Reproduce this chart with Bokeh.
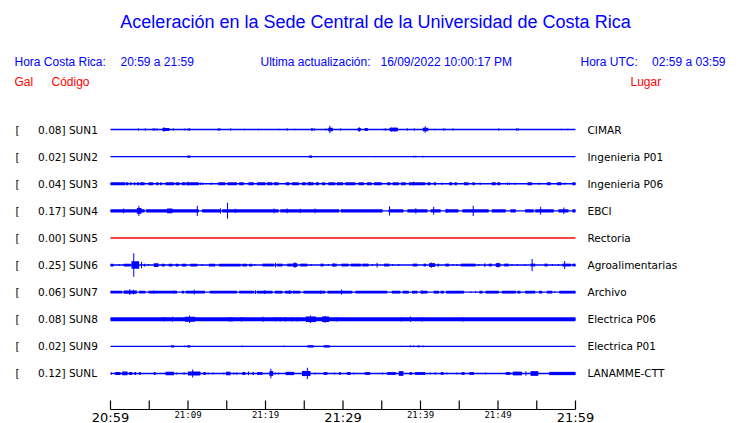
from bokeh.plotting import figure
from bokeh.models import Range1d
from bokeh.core.properties import value
from bokeh.embed import file_html
from bokeh.resources import INLINE

# ---------------- data ----------------
TITLE = "Aceleración en la Sede Central de la Universidad de Costa Rica"
HORA_CR = ["Hora Costa Rica:", "20:59 a 21:59"]
UPDATE = ["Ultima actualización:", "16/09/2022 10:00:17 PM"]
HORA_UTC = ["Hora UTC:", "02:59 a 03:59"]
COL_HEADS = ["Gal", "Código", "Lugar"]

CODES = ["SUN1", "SUN2", "SUN3", "SUN4", "SUN5", "SUN6", "SUN7", "SUN8", "SUN9", "SUNL"]
PEAKS = [0.08, 0.02, 0.04, 0.17, 0.00, 0.25, 0.06, 0.08, 0.02, 0.12]
PLACES = ["CIMAR", "Ingenieria P01", "Ingenieria P06", "EBCI", "Rectoria",
          "Agroalimentarias", "Archivo", "Electrica P06", "Electrica P01", "LANAMME-CTT"]

TICK_MINUTES = [0, 5, 10, 15, 20, 25, 30, 35, 40, 45, 50, 55, 60]
LABEL_MINUTES = [0, 10, 20, 30, 40, 50, 60]
TICK_LABELS = ["20:59", "21:09", "21:19", "21:29", "21:39", "21:49", "21:59"]
LABEL_MAJOR = [True, False, False, True, False, False, True]

# envelope events per channel: (start minute, end minute, peak |acc| in Gal)
SUN1 = [(3.6, 3.6, .025), (4.5, 4.5, .025), (5.5, 5.5, .025), (5.7, 5.7, .025), (6.0, 6.0, .025),
        (6.7, 7.6, .03), (6.9, 6.9, .05), (8.1, 8.1, .025), (9.6, 9.6, .02), (10.0, 10.0, .025),
        (10.2, 10.2, .025), (13.9, 13.9, .025), (14.1, 14.1, .025), (15.5, 15.5, .025),
        (17.3, 17.3, .015), (19.1, 19.1, .015), (21.7, 21.7, .015), (22.8, 22.8, .025),
        (23.8, 23.8, .015), (25.9, 26.1, .03), (26.3, 26.3, .025), (27.8, 27.8, .02),
        (28.1, 28.7, .035), (28.3, 28.3, .08), (29.7, 29.7, .025), (31.9, 32.3, .03),
        (32.1, 32.1, .05), (32.8, 33.2, .03), (35.3, 35.3, .015), (35.5, 35.5, .025),
        (36.0, 37.1, .035), (36.3, 36.3, .05), (36.7, 36.7, .05), (38.3, 38.3, .025),
        (39.2, 39.2, .025), (40.3, 41.0, .035), (40.6, 40.6, .07), (41.9, 41.9, .015),
        (43.0, 43.0, .025), (43.2, 43.2, .015), (44.2, 44.2, .025), (50.1, 50.1, .025),
        (52.4, 52.4, .025), (52.6, 52.6, .025), (58.2, 58.2, .015), (59.0, 59.0, .015)]
SUN2 = [(9.9, 10.3, .025), (25.6, 26.0, .025), (26.4, 26.4, .015), (34.1, 34.1, .015),
        (39.1, 39.1, .02), (39.4, 39.4, .02), (40.3, 40.3, .02)]
SUN3 = [(0.0, 1.9, .03), (2.0, 2.3, .03), (2.5, 2.7, .03), (3.0, 3.2, .03), (3.4, 3.7, .03),
        (3.8, 4.4, .03), (4.9, 5.5, .03), (5.9, 6.2, .03), (6.4, 6.6, .03), (7.1, 8.2, .03),
        (8.4, 8.9, .03), (9.2, 9.7, .03), (9.8, 11.4, .03), (10.0, 10.0, .04), (11.6, 11.6, .025),
        (11.9, 11.9, .025), (13.0, 13.0, .025), (13.9, 14.8, .03), (15.1, 16.3, .03),
        (16.6, 17.2, .03), (17.8, 18.5, .03), (18.9, 20.0, .03), (20.2, 20.9, .03),
        (21.1, 21.7, .03), (22.6, 23.1, .03), (23.4, 24.3, .03), (24.7, 25.2, .03),
        (25.4, 26.2, .03), (25.7, 25.7, .04), (26.5, 26.9, .03), (27.3, 27.7, .03),
        (28.1, 29.0, .03), (29.2, 30.0, .03), (30.3, 31.6, .03), (32.0, 32.7, .03),
        (33.1, 33.7, .03), (34.0, 35.0, .03), (35.7, 36.1, .03), (36.4, 37.2, .03),
        (37.5, 38.1, .03), (38.5, 40.6, .03), (39.1, 39.1, .04), (40.9, 41.3, .03),
        (41.7, 42.0, .03), (42.8, 42.8, .025), (43.7, 44.1, .03), (44.4, 44.7, .03),
        (45.6, 46.2, .03), (46.7, 47.0, .03), (47.7, 47.7, .025), (49.2, 49.7, .03),
        (49.9, 50.3, .03), (51.2, 51.2, .025), (51.5, 51.5, .025), (52.2, 52.2, .025),
        (53.8, 54.4, .03), (55.3, 55.3, .025), (56.3, 56.8, .03), (57.6, 58.2, .03),
        (58.6, 58.6, .025), (59.6, 60.0, .03)]
SUN4 = [(0.0, 4.4, .035), (4.6, 11.4, .035), (11.8, 14.2, .035), (14.4, 21.7, .035),
        (21.9, 29.5, .035), (29.7, 35.1, .035), (35.9, 37.8, .035), (38.3, 40.9, .035),
        (41.3, 42.6, .035), (43.2, 44.9, .035), (45.4, 48.8, .035), (49.2, 51.0, .035),
        (51.6, 52.3, .035), (53.5, 54.6, .035), (54.8, 57.2, .035), (57.8, 59.1, .035),
        (59.6, 60.0, .035), (1.7, 1.7, .05), (3.4, 4.0, .06), (3.66, 3.66, .11),
        (7.3, 8.0, .05), (11.2, 11.2, .11), (14.2, 14.2, .055), (15.1, 15.1, .17),
        (16.1, 16.1, .045), (21.1, 21.1, .05), (22.8, 22.8, .05), (24.5, 24.5, .045),
        (26.4, 26.4, .05), (36.0, 36.0, .1), (39.4, 39.4, .055), (41.7, 41.7, .085),
        (43.4, 43.4, .045), (46.8, 46.8, .11), (55.5, 55.5, .085), (58.5, 58.5, .07)]
SUN5 = []
SUN6 = [(0.0, 0.4, .03), (1.1, 1.1, .02), (1.7, 2.6, .03), (2.7, 3.7, .08), (3.0, 3.0, .25),
        (4.0, 4.0, .07), (4.3, 4.5, .03), (4.9, 4.9, .02), (5.6, 6.2, .04), (6.6, 7.0, .03),
        (7.5, 8.0, .03), (8.4, 8.8, .03), (9.2, 9.8, .03), (10.3, 11.2, .03), (11.8, 11.8, .02),
        (12.7, 13.5, .03), (14.0, 16.8, .03), (17.0, 17.6, .03), (17.9, 18.3, .03),
        (18.6, 18.6, .02), (19.6, 21.1, .03), (21.3, 21.3, .05), (21.5, 22.2, .03),
        (22.8, 23.4, .03), (23.5, 24.1, .04), (23.8, 23.8, .06), (24.5, 25.4, .03),
        (25.9, 25.9, .02), (27.1, 27.5, .03), (28.1, 28.1, .02), (28.6, 29.2, .03),
        (28.8, 28.8, .04), (29.8, 30.7, .03), (31.0, 32.3, .03), (32.5, 33.3, .03),
        (33.8, 33.8, .02), (34.4, 34.4, .05), (35.3, 36.0, .03), (36.4, 36.4, .02),
        (37.2, 37.2, .02), (39.0, 39.6, .03), (40.4, 40.7, .03), (41.1, 41.9, .04),
        (41.4, 41.4, .055), (42.2, 42.4, .03), (43.2, 43.7, .03), (44.2, 44.2, .02),
        (44.7, 44.7, .02), (45.2, 47.1, .03), (47.5, 47.5, .02), (48.3, 48.3, .04),
        (48.8, 49.2, .03), (49.7, 50.3, .04), (50.0, 50.0, .05), (50.8, 51.4, .03),
        (51.8, 51.8, .02), (52.5, 52.5, .02), (53.5, 53.5, .02), (54.2, 54.8, .03),
        (54.4, 54.4, .13), (56.0, 56.4, .03), (57.0, 57.0, .02), (57.8, 57.8, .02),
        (58.3, 59.4, .03), (58.6, 58.6, .085), (59.6, 60.0, .03)]
SUN7 = [(0.0, 1.5, .03), (1.7, 3.4, .035), (2.5, 2.5, .06), (3.0, 3.0, .05), (3.7, 4.5, .03),
        (4.9, 8.6, .03), (5.6, 5.6, .035), (8.2, 8.2, .035), (9.2, 9.5, .03), (9.7, 12.2, .03),
        (10.8, 10.8, .05), (12.8, 16.3, .03), (16.6, 18.5, .03), (18.7, 18.7, .04),
        (18.9, 20.9, .03), (19.9, 19.9, .04), (21.2, 22.2, .03), (22.5, 23.4, .03),
        (23.1, 23.1, .04), (23.5, 24.5, .03), (24.9, 27.7, .03), (27.1, 27.1, .035),
        (28.0, 29.5, .03), (29.8, 29.8, .055), (29.5, 31.2, .03), (31.6, 35.7, .03),
        (36.3, 37.4, .03), (37.7, 38.5, .03), (38.9, 39.6, .03), (40.0, 40.9, .03),
        (40.2, 40.2, .04), (41.7, 42.4, .03), (42.6, 43.0, .03), (43.3, 45.6, .03),
        (46.5, 46.5, .02), (47.1, 47.1, .02), (47.6, 48.0, .03), (48.4, 50.1, .03),
        (50.5, 52.3, .03), (52.5, 52.9, .03), (53.5, 54.8, .03), (55.3, 55.7, .03),
        (56.3, 57.0, .03), (57.3, 57.3, .02), (57.9, 60.0, .03)]
SUN8 = [(0.0, 60.0, .042), (6.9, 6.9, .05), (8.0, 8.0, .055), (9.6, 10.9, .055), (10.2, 10.2, .08),
        (15.3, 15.3, .045), (15.5, 15.5, .045), (15.7, 15.7, .045), (16.9, 16.9, .05),
        (19.7, 19.7, .055), (21.3, 21.3, .045), (21.9, 21.9, .045), (22.6, 22.6, .045),
        (23.4, 23.4, .045), (24.1, 24.1, .045), (25.2, 26.5, .06), (25.8, 25.8, .08),
        (27.3, 28.2, .06), (27.7, 27.7, .07), (29.2, 29.2, .045), (37.5, 37.5, .045),
        (38.7, 38.7, .06), (40.2, 40.2, .045), (45.5, 45.5, .045)]
SUN9 = [(7.8, 8.2, .025), (9.6, 9.6, .02), (9.9, 10.3, .025), (10.6, 10.6, .015), (17.0, 17.0, .02),
        (22.4, 22.4, .02), (25.4, 26.2, .025), (26.5, 26.5, .015), (27.5, 28.3, .025),
        (37.5, 37.5, .015), (38.6, 38.8, .02), (39.1, 39.1, .02), (39.6, 39.9, .02),
        (40.3, 40.3, .02)]
SUNL = [(0.1, 0.1, .025), (0.6, 1.3, .03), (1.5, 2.2, .04), (2.4, 2.8, .03), (3.1, 3.3, .03),
        (3.7, 3.9, .03), (5.6, 5.8, .03), (7.1, 8.2, .035), (8.5, 8.5, .02), (9.5, 9.5, .025),
        (10.0, 11.6, .045), (10.6, 10.6, .085), (12.0, 12.3, .03), (12.6, 12.6, .02),
        (13.2, 13.2, .02), (14.6, 14.6, .02), (14.9, 15.5, .035), (15.9, 15.9, .02),
        (16.3, 16.3, .025), (17.0, 17.4, .03), (17.8, 17.8, .04), (18.3, 18.5, .03),
        (18.9, 19.6, .03), (20.5, 21.0, .05), (20.7, 20.7, .1), (21.3, 21.3, .02),
        (21.7, 21.7, .02), (22.6, 23.7, .035), (24.7, 25.8, .055), (25.4, 25.4, .12),
        (26.4, 26.4, .02), (27.5, 28.0, .03), (28.9, 28.9, .02), (29.5, 29.7, .03),
        (30.5, 31.0, .03), (31.4, 31.4, .02), (32.8, 33.5, .03), (35.1, 35.1, .02),
        (35.7, 36.8, .03), (37.2, 37.8, .05), (38.6, 38.9, .03), (39.3, 40.6, .03),
        (41.3, 41.3, .02), (41.9, 41.9, .025), (42.6, 43.0, .03), (43.4, 43.4, .02),
        (44.7, 44.7, .02), (45.3, 45.7, .03), (46.3, 46.9, .03), (48.4, 48.4, .02),
        (51.0, 51.6, .03), (51.9, 53.1, .04), (53.6, 53.6, .05), (54.2, 55.2, .05),
        (56.6, 60.0, .035)]
EVENTS = [SUN1, SUN2, SUN3, SUN4, SUN5, SUN6, SUN7, SUN8, SUN9, SUNL]

# ---------------- geometry / style ----------------
W, H = 740, 423
PX_T0, PX_T60 = 110, 575           # px of minute 0 and 60
PPM = (PX_T60 - PX_T0) / 60.0      # px per minute
ROW0_PX, ROW_PX = 129, 27.11       # px of first row, row spacing
GAL_PX = 47.0                      # px per Gal
K = GAL_PX / ROW_PX                # row units per Gal

BLUE = "#0000ff"
RED = "#ff0000"


def xd(px):
    return (px - PX_T0) / PPM


def yd(py):
    return (py - ROW0_PX) / ROW_PX


p = figure(width=W, height=H, output_backend="svg", toolbar_location=None,
           x_axis_type=None, y_axis_type=None, min_border=0,
           x_range=Range1d(-PX_T0 / PPM, 60 + (W - PX_T60) / PPM),
           y_range=Range1d((H - ROW0_PX) / ROW_PX, -ROW0_PX / ROW_PX))
p.outline_line_color = None
p.background_fill_color = "white"
p.border_fill_color = "white"
p.grid.visible = False

HFONT = value("Liberation Sans")
TFONT = value("DejaVu Sans")


def txt(x, y, s, size, color, font, align="left"):
    p.text(x=[x], y=[y], text=[s], text_font=font, text_font_size=size,
           text_color=color, text_align=align, text_baseline="middle")


# header
txt(xd(375), yd(21), TITLE, "18px", BLUE, HFONT, "center")
txt(xd(14), yd(61), HORA_CR[0], "12px", BLUE, HFONT)
txt(xd(120), yd(61), HORA_CR[1], "12px", BLUE, HFONT)
txt(xd(260), yd(61), UPDATE[0], "12px", BLUE, HFONT)
txt(xd(380), yd(61), UPDATE[1], "12px", BLUE, HFONT)
txt(xd(580), yd(61), HORA_UTC[0], "12px", BLUE, HFONT)
txt(xd(725), yd(61), HORA_UTC[1], "12px", BLUE, HFONT, "right")
txt(xd(14), yd(81), COL_HEADS[0], "12px", RED, HFONT)
txt(xd(51), yd(81), COL_HEADS[1], "12px", RED, HFONT)
txt(xd(630), yd(81), COL_HEADS[2], "12px", RED, HFONT)

# channels
rows = list(range(len(CODES)))
p.text(x=[xd(15)] * len(rows), y=rows, text=["["] * len(rows), text_font=TFONT,
       text_font_size="10.5px", text_color="black", text_baseline="middle")
p.text(x=[xd(61)] * len(rows), y=rows, text=["%.2f" % v for v in PEAKS], text_font=TFONT,
       text_font_size="10.5px", text_color="black", text_baseline="middle", text_align="right")
p.text(x=[xd(61)] * len(rows), y=rows, text=["] " + c for c in CODES], text_font=TFONT,
       text_font_size="10.5px", text_color="black", text_baseline="middle")
p.text(x=[xd(587)] * len(rows), y=rows, text=PLACES, text_font=TFONT,
       text_font_size="10.5px", text_color="black", text_baseline="middle")

for i, ev in enumerate(EVENTS):
    color = RED if PEAKS[i] == 0 else BLUE
    p.segment(x0=[0], x1=[60], y0=[i], y1=[i], line_color=color, line_width=1.4)
    if not ev:
        continue
    left, right, top, bottom = [], [], [], []
    for t0, t1, a in ev:
        if t1 - t0 < 0.13:
            c = (t0 + t1) / 2
            t0, t1 = c - 0.065, c + 0.065
        left.append(t0)
        right.append(t1)
        top.append(i - a * K)
        bottom.append(i + a * K)
    p.quad(left=left, right=right, top=top, bottom=bottom, fill_color=color,
           line_color=None)

# time axis
ya = yd(409)
p.segment(x0=[TICK_MINUTES[0]], x1=[TICK_MINUTES[-1]], y0=[ya], y1=[ya],
          line_color="black", line_width=1.2)
p.segment(x0=TICK_MINUTES, x1=TICK_MINUTES, y0=[ya] * len(TICK_MINUTES),
          y1=[yd(400)] * len(TICK_MINUTES), line_color="black", line_width=1.2)
for m, lab, major in zip(LABEL_MINUTES, TICK_LABELS, LABEL_MAJOR):
    if major:
        txt(m, yd(416.5), lab, "13px", "black", TFONT, "center")
    else:
        txt(m, yd(414), lab, "9px", "black", value("DejaVu Sans Mono"), "center")

open("out.html", "w").write(file_html(p, INLINE))
